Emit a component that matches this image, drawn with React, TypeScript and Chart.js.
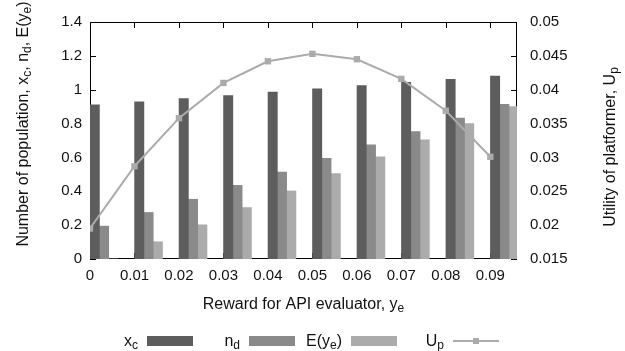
import { useEffect, useRef } from 'react';
import { Chart, registerables } from 'chart.js';

Chart.register(...registerables);

// ---- data ----
const rewards = [0, 0.01, 0.02, 0.03, 0.04, 0.05, 0.06, 0.07, 0.08, 0.09];
const xTickLabels = ['0', '0.01', '0.02', '0.03', '0.04', '0.05', '0.06', '0.07', '0.08', '0.09'];
const xcValues = [0.91, 0.929, 0.948, 0.966, 0.986, 1.005, 1.024, 1.043, 1.062, 1.081];
const ndValues = [0.194, 0.275, 0.353, 0.435, 0.514, 0.594, 0.675, 0.753, 0.833, 0.914];
const eyeValues = [0, 0.102, 0.202, 0.304, 0.402, 0.504, 0.604, 0.704, 0.8, 0.9];
const upValues = [0.0195, 0.0287, 0.0358, 0.041, 0.0442, 0.0453, 0.0445, 0.0416, 0.0369, 0.0301];
const leftTicks = [0, 0.2, 0.4, 0.6, 0.8, 1, 1.2, 1.4];
const leftTickLabels = ['0', '0.2', '0.4', '0.6', '0.8', '1', '1.2', '1.4'];
const rightTicks = [0.015, 0.02, 0.025, 0.03, 0.035, 0.04, 0.045, 0.05];
const rightTickLabels = ['0.015', '0.02', '0.025', '0.03', '0.035', '0.04', '0.045', '0.05'];

type Part = { t: string; sub?: boolean };
const xcLabel: Part[] = [{ t: 'x' }, { t: 'c', sub: true }];
const ndLabel: Part[] = [{ t: 'n' }, { t: 'd', sub: true }];
const eyeLabel: Part[] = [{ t: 'E(y' }, { t: 'e', sub: true }, { t: ')' }];
const upLabel: Part[] = [{ t: 'U' }, { t: 'p', sub: true }];
const xTitle: Part[] = [{ t: 'Reward for API evaluator, y' }, { t: 'e', sub: true }];
const yTitle: Part[] = [
  { t: 'Number of population, x' }, { t: 'c', sub: true }, { t: ', n' }, { t: 'd', sub: true },
  { t: ', E(y' }, { t: 'e', sub: true }, { t: ')' },
];
const y2Title: Part[] = [{ t: 'Utility of platformer, U' }, { t: 'p', sub: true }];

// ---- style ----
const FONT = '"Liberation Sans", Arial, Helvetica, sans-serif';
const TEXT = '#111';
const C_XC = '#5d5d5d';
const C_ND = '#8a8a8a';
const C_EY = '#ababab';
const C_UP = '#ababab';
const BAR_W = 9.3;
const X_MIN = 0;
const X_MAX = 0.096;
const GROUP_SHIFT = 0.0063; // one bar-group width, so each group starts at its tick

function drawRich(ctx: CanvasRenderingContext2D, parts: Part[], x: number, y: number, align: 'left' | 'center' | 'right', size: number) {
  const sub = Math.round(size * 0.72);
  ctx.textAlign = 'left';
  ctx.textBaseline = 'alphabetic';
  const widths = parts.map((p) => {
    ctx.font = `${p.sub ? sub : size}px ${FONT}`;
    return ctx.measureText(p.t).width;
  });
  const total = widths.reduce((a, b) => a + b, 0);
  let cx = align === 'center' ? x - total / 2 : align === 'right' ? x - total : x;
  parts.forEach((p, i) => {
    ctx.font = `${p.sub ? sub : size}px ${FONT}`;
    ctx.fillText(p.t, cx, y + (p.sub ? size * 0.2 : 0));
    cx += widths[i];
  });
}

const framePlugin = {
  id: 'frameTicks',
  beforeDatasetsDraw(chart: any) {
    const { ctx, chartArea: a, scales } = chart;
    ctx.save();
    ctx.strokeStyle = '#000';
    ctx.lineWidth = 1;
    ctx.strokeRect(Math.round(a.left) + 0.5, Math.round(a.top) + 0.5, Math.round(a.right - a.left) - 1, Math.round(a.bottom - a.top) - 1);
    const L = 6;
    ctx.beginPath();
    leftTicks.forEach((v) => {
      const y = Math.round(scales.y.getPixelForValue(v)) + 0.5;
      ctx.moveTo(a.left, y); ctx.lineTo(a.left + L, y);
    });
    rightTicks.forEach((v) => {
      const y = Math.round(scales.y2.getPixelForValue(v)) + 0.5;
      ctx.moveTo(a.right, y); ctx.lineTo(a.right - L, y);
    });
    rewards.forEach((v) => {
      const x = Math.round(scales.x.getPixelForValue(v)) + 0.5;
      ctx.moveTo(x, a.top); ctx.lineTo(x, a.top + L);
      ctx.moveTo(x, a.bottom); ctx.lineTo(x, a.bottom - L);
    });
    ctx.stroke();
    ctx.restore();
  },
  afterDraw(chart: any) {
    const { ctx, chartArea: a } = chart;
    ctx.save();
    ctx.fillStyle = TEXT;
    // axis titles
    drawRich(ctx, xTitle, (a.left + a.right) / 2, 309, 'center', 16);
    ctx.save();
    ctx.translate(28, 124);
    ctx.rotate(-Math.PI / 2);
    drawRich(ctx, yTitle, 0, 0, 'center', 16);
    ctx.restore();
    ctx.save();
    ctx.translate(615, 147);
    ctx.rotate(-Math.PI / 2);
    drawRich(ctx, y2Title, 0, 0, 'center', 16);
    ctx.restore();
    // legend
    const items = [
      { parts: xcLabel, color: C_XC, box: true, x: 147 },
      { parts: ndLabel, color: C_ND, box: true, x: 249 },
      { parts: eyeLabel, color: C_EY, box: true, x: 351 },
      { parts: upLabel, color: C_UP, box: false, x: 453 },
    ];
    const yBase = 346;
    items.forEach((it) => {
      ctx.fillStyle = TEXT;
      drawRich(ctx, it.parts, it.x - 9, yBase, 'right', 16);
      if (it.box) {
        ctx.fillStyle = it.color;
        ctx.fillRect(it.x, 336, 46, 10);
      } else {
        ctx.strokeStyle = it.color;
        ctx.lineWidth = 2;
        ctx.beginPath();
        ctx.moveTo(it.x, 341);
        ctx.lineTo(it.x + 46, 341);
        ctx.stroke();
        ctx.fillStyle = it.color;
        ctx.fillRect(it.x + 23 - 3, 338, 6, 6);
      }
    });
    ctx.restore();
  },
};

export default function App() {
  const ref = useRef<HTMLCanvasElement | null>(null);
  useEffect(() => {
    if (!ref.current) return;
    const barData = (vals: number[]) => rewards.map((r, i) => ({ x: r, y: vals[i] }));
    const barDs = (label: string, vals: number[], color: string) => ({
      type: 'bar' as const,
      label,
      data: barData(vals),
      backgroundColor: color,
      borderWidth: 0,
      barThickness: BAR_W,
      xAxisID: 'xb',
      yAxisID: 'y',
      order: 1,
    });
    const chart = new Chart(ref.current, {
      type: 'bar',
      data: {
        datasets: [
          barDs('xc', xcValues, C_XC),
          barDs('nd', ndValues, C_ND),
          barDs('E(ye)', eyeValues, C_EY),
          {
            type: 'line' as const,
            label: 'Up',
            data: rewards.map((r, i) => ({ x: r, y: upValues[i] })),
            borderColor: C_UP,
            backgroundColor: C_UP,
            borderWidth: 2,
            pointStyle: 'rect',
            pointRadius: 4.5,
            pointBorderWidth: 0,
            xAxisID: 'x',
            yAxisID: 'y2',
            order: 0,
          } as any,
        ],
      },
      options: {
        animation: false,
        responsive: true,
        maintainAspectRatio: false,
        layout: { padding: { top: 20, left: 0, right: 0, bottom: 0 } },
        plugins: { legend: { display: false }, tooltip: { enabled: false } },
        scales: {
          x: {
            type: 'linear',
            position: 'bottom',
            offset: false,
            min: X_MIN,
            max: X_MAX,
            grid: { display: false, drawTicks: false, offset: false },
            border: { display: false },
            afterBuildTicks: (s: any) => { s.ticks = rewards.map((v) => ({ value: v })); },
            afterFit: (s: any) => { s.height = 92; },
            ticks: {
              padding: 8,
              maxRotation: 0,
              autoSkip: false,
              color: TEXT,
              font: { family: FONT, size: 15 },
              callback: (_v: any, i: number) => xTickLabels[i],
            },
          },
          xb: {
            type: 'linear',
            position: 'bottom',
            display: false,
            offset: false,
            grid: { offset: false },
            min: X_MIN - GROUP_SHIFT,
            max: X_MAX - GROUP_SHIFT,
          },
          y: {
            type: 'linear',
            position: 'left',
            min: 0,
            max: 1.4,
            grid: { display: false, drawTicks: false },
            border: { display: false },
            afterBuildTicks: (s: any) => { s.ticks = leftTicks.map((v) => ({ value: v })); },
            afterFit: (s: any) => { s.width = 90; },
            ticks: {
              padding: 8,
              color: TEXT,
              font: { family: FONT, size: 15 },
              callback: (_v: any, i: number) => leftTickLabels[i],
            },
          },
          y2: {
            type: 'linear',
            position: 'right',
            min: 0.015,
            max: 0.05,
            grid: { display: false, drawTicks: false },
            border: { display: false },
            afterBuildTicks: (s: any) => { s.ticks = rightTicks.map((v) => ({ value: v })); },
            afterFit: (s: any) => { s.width = 108; },
            ticks: {
              padding: 13,
              color: TEXT,
              font: { family: FONT, size: 15 },
              callback: (_v: any, i: number) => rightTickLabels[i],
            },
          },
        },
      } as any,
      plugins: [framePlugin],
    });
    return () => chart.destroy();
  }, []);
  return (
    <div style={{ position: 'absolute', left: 0, top: 0, width: 625, height: 351, background: '#fff' }}>
      <canvas ref={ref} />
    </div>
  );
}
